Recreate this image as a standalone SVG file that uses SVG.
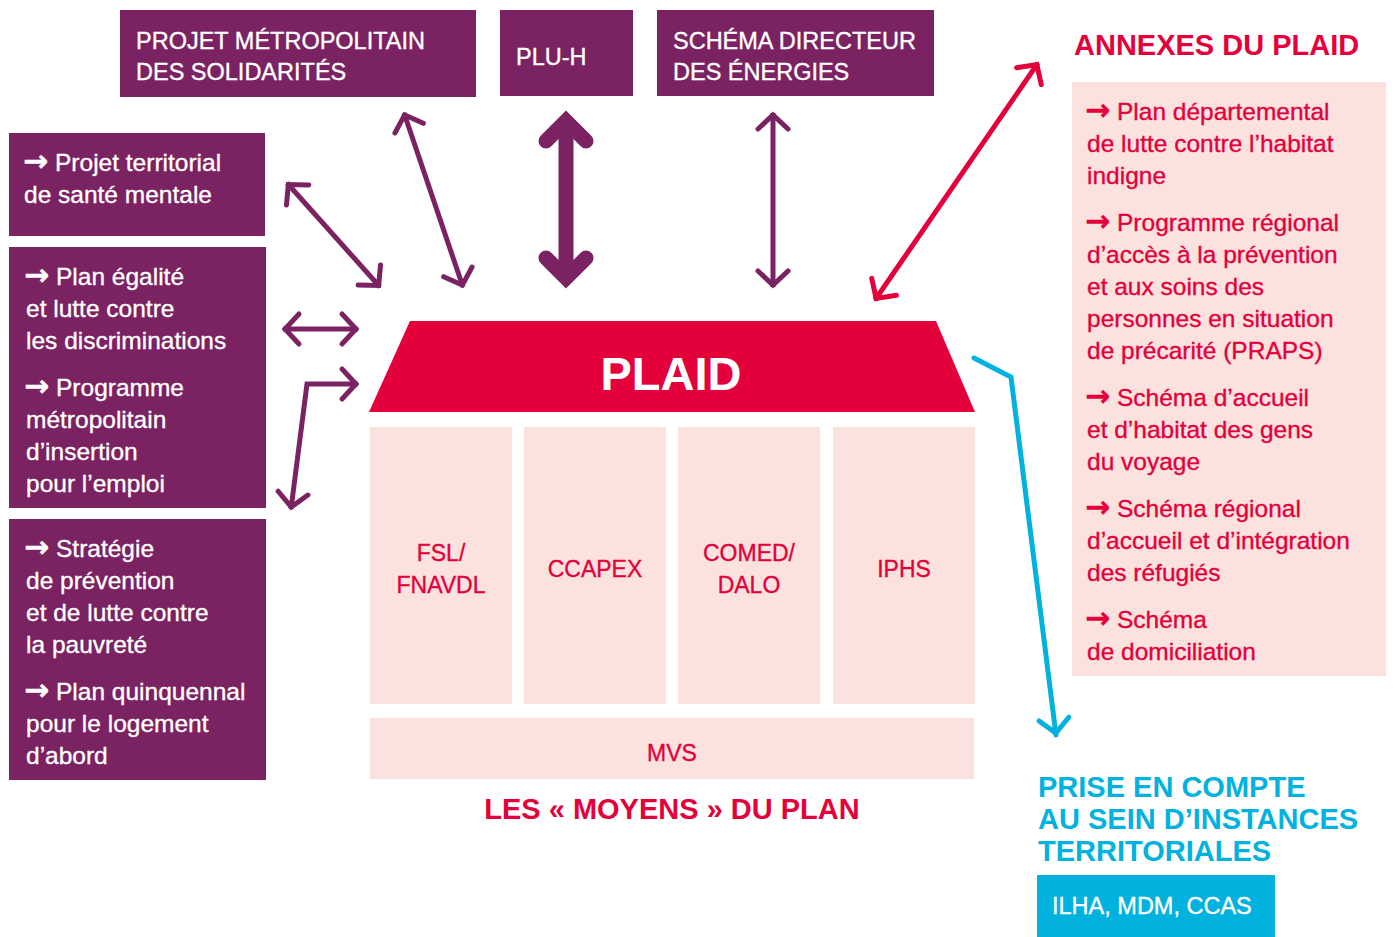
<svg xmlns="http://www.w3.org/2000/svg" width="1394" height="937" viewBox="0 0 1394 937">
  <style>
    .purple { fill: #7B2262; }
    .pink { fill: #FCE2DF; }
    .red { fill: #E4003A; }
    .blue { fill: #00B2DD; }
    text { font-family: "Liberation Sans", Arial, sans-serif; }
    .wt { fill: #ffffff; stroke: #ffffff; stroke-width: 0.35px; font-size: 23.5px; }
    .lt { font-size: 24.5px; }
    .rt { fill: #E4003A; stroke: #E4003A; stroke-width: 0.35px; font-size: 24.5px; }
    .ct { fill: #E4003A; stroke: #E4003A; stroke-width: 0.35px; font-size: 23px; text-anchor: middle; }
    .arw { font-family: "DejaVu Sans", sans-serif; font-weight: bold; font-size: 30px; }
    .title { font-weight: bold; font-size: 29px; }
    .conn { fill: none; stroke-width: 5; stroke-linejoin: miter; }
    .cp { stroke: #7B2262; }
    .cr { stroke: #E4003A; }
    .cb { stroke: #00B2DD; }
  </style>
  <defs>
    <marker id="mp" markerUnits="userSpaceOnUse" orient="auto-start-reverse" viewBox="-30 -30 60 60" markerWidth="60" markerHeight="60" refX="0" refY="0" overflow="visible">
      <path d="M-16,-15 L-2,0 L-16,15" fill="none" stroke="#7B2262" stroke-width="5" stroke-linecap="round"/>
    </marker>
    <marker id="mr" markerUnits="userSpaceOnUse" orient="auto-start-reverse" viewBox="-30 -30 60 60" markerWidth="60" markerHeight="60" refX="0" refY="0" overflow="visible">
      <path d="M-16,-15 L-2,0 L-16,15" fill="none" stroke="#E4003A" stroke-width="5" stroke-linecap="round"/>
    </marker>
    <marker id="mb" markerUnits="userSpaceOnUse" orient="auto-start-reverse" viewBox="-30 -30 60 60" markerWidth="60" markerHeight="60" refX="0" refY="0" overflow="visible">
      <path d="M-16,-15 L-2,0 L-16,15" fill="none" stroke="#00B2DD" stroke-width="5" stroke-linecap="round"/>
    </marker>
  </defs>

  <rect width="1394" height="937" fill="#ffffff"/>

  <!-- top documents -->
  <g id="projet-metropolitain">
    <rect class="purple" x="120" y="10" width="356" height="87"/>
    <text class="wt" x="136" y="49">PROJET MÉTROPOLITAIN</text>
    <text class="wt" x="136" y="80">DES SOLIDARITÉS</text>
  </g>
  <g id="plu-h">
    <rect class="purple" x="500" y="10" width="133" height="86"/>
    <text class="wt" x="516" y="65">PLU-H</text>
  </g>
  <g id="schema-energies">
    <rect class="purple" x="657" y="10" width="277" height="86"/>
    <text class="wt" x="673" y="49">SCHÉMA DIRECTEUR</text>
    <text class="wt" x="673" y="80">DES ÉNERGIES</text>
  </g>

  <!-- left documents -->
  <g id="sante-mentale">
    <rect class="purple" x="9" y="133" width="256" height="103"/>
    <text class="wt lt" y="171"><tspan class="arw" x="23">→</tspan><tspan x="55">Projet territorial</tspan></text>
    <text class="wt lt" x="24" y="203">de santé mentale</text>
  </g>
  <g id="egalite-insertion">
    <rect class="purple" x="9" y="247" width="257" height="261"/>
    <text class="wt lt" y="285"><tspan class="arw" x="24">→</tspan><tspan x="56">Plan égalité</tspan></text>
    <text class="wt lt" x="26" y="317">et lutte contre</text>
    <text class="wt lt" x="26" y="349">les discriminations</text>
    <text class="wt lt" y="396"><tspan class="arw" x="24">→</tspan><tspan x="56">Programme</tspan></text>
    <text class="wt lt" x="26" y="428">métropolitain</text>
    <text class="wt lt" x="26" y="460">d’insertion</text>
    <text class="wt lt" x="26" y="492">pour l’emploi</text>
  </g>
  <g id="pauvrete-logement">
    <rect class="purple" x="9" y="519" width="257" height="261"/>
    <text class="wt lt" y="557"><tspan class="arw" x="24">→</tspan><tspan x="56">Stratégie</tspan></text>
    <text class="wt lt" x="26" y="589">de prévention</text>
    <text class="wt lt" x="26" y="621">et de lutte contre</text>
    <text class="wt lt" x="26" y="653">la pauvreté</text>
    <text class="wt lt" y="700"><tspan class="arw" x="24">→</tspan><tspan x="56">Plan quinquennal</tspan></text>
    <text class="wt lt" x="26" y="732">pour le logement</text>
    <text class="wt lt" x="26" y="764">d’abord</text>
  </g>

  <!-- central plan -->
  <g id="plaid">
    <polygon class="red" points="410,321 936,321 975,412 369,412"/>
    <text x="671" y="390" fill="#ffffff" font-weight="bold" font-size="47" text-anchor="middle">PLAID</text>
  </g>
  <g id="fsl">
    <rect class="pink" x="370" y="427" width="142" height="277"/>
    <text class="ct" x="441" y="561">FSL/</text>
    <text class="ct" x="441" y="593">FNAVDL</text>
  </g>
  <g id="ccapex">
    <rect class="pink" x="524" y="427" width="142" height="277"/>
    <text class="ct" x="595" y="577">CCAPEX</text>
  </g>
  <g id="comed">
    <rect class="pink" x="678" y="427" width="142" height="277"/>
    <text class="ct" x="749" y="561">COMED/</text>
    <text class="ct" x="749" y="593">DALO</text>
  </g>
  <g id="iphs">
    <rect class="pink" x="833" y="427" width="142" height="277"/>
    <text class="ct" x="904" y="577">IPHS</text>
  </g>
  <g id="mvs">
    <rect class="pink" x="370" y="718" width="604" height="61"/>
    <text class="ct" x="672" y="761">MVS</text>
  </g>
  <g id="moyens-label">
    <text class="title" x="672" y="819" fill="#E4003A" text-anchor="middle" font-size="28.5">LES « MOYENS » DU PLAN</text>
  </g>

  <!-- annexes -->
  <g id="annexes">
    <text class="title" x="1074" y="55" fill="#E4003A">ANNEXES DU PLAID</text>
    <rect class="pink" x="1072" y="82" width="314" height="594"/>
    <text class="rt" y="120"><tspan class="arw" x="1085">→</tspan><tspan x="1117">Plan départemental</tspan></text>
    <text class="rt" x="1087" y="152">de lutte contre l’habitat</text>
    <text class="rt" x="1087" y="184">indigne</text>
    <text class="rt" y="231"><tspan class="arw" x="1085">→</tspan><tspan x="1117">Programme régional</tspan></text>
    <text class="rt" x="1087" y="263">d’accès à la prévention</text>
    <text class="rt" x="1087" y="295">et aux soins des</text>
    <text class="rt" x="1087" y="327">personnes en situation</text>
    <text class="rt" x="1087" y="359">de précarité (PRAPS)</text>
    <text class="rt" y="406"><tspan class="arw" x="1085">→</tspan><tspan x="1117">Schéma d’accueil</tspan></text>
    <text class="rt" x="1087" y="438">et d’habitat des gens</text>
    <text class="rt" x="1087" y="470">du voyage</text>
    <text class="rt" y="517"><tspan class="arw" x="1085">→</tspan><tspan x="1117">Schéma régional</tspan></text>
    <text class="rt" x="1087" y="549">d’accueil et d’intégration</text>
    <text class="rt" x="1087" y="581">des réfugiés</text>
    <text class="rt" y="628"><tspan class="arw" x="1085">→</tspan><tspan x="1117">Schéma</tspan></text>
    <text class="rt" x="1087" y="660">de domiciliation</text>
  </g>

  <!-- territorial bodies -->
  <g id="instances">
    <text class="title" fill="#00B2DD" x="1038" y="797">PRISE EN COMPTE</text>
    <text class="title" fill="#00B2DD" x="1038" y="829">AU SEIN D’INSTANCES</text>
    <text class="title" fill="#00B2DD" x="1038" y="861">TERRITORIALES</text>
    <rect class="blue" x="1037" y="875" width="238" height="62"/>
    <text class="wt" x="1052" y="914" font-size="24">ILHA, MDM, CCAS</text>
  </g>

  <!-- connectors -->
  <g id="connectors">
    <line class="conn cp" x1="287" y1="183" x2="380" y2="287" marker-start="url(#mp)" marker-end="url(#mp)"/>
    <line class="conn cp" x1="404" y1="113" x2="463" y2="287" marker-start="url(#mp)" marker-end="url(#mp)"/>
    <line class="conn cp" x1="773" y1="113" x2="773" y2="287" marker-start="url(#mp)" marker-end="url(#mp)"/>
    <line class="conn cp" x1="283" y1="329" x2="358" y2="329" marker-start="url(#mp)" marker-end="url(#mp)"/>
    <path class="conn cp" d="M358,384 L307,384 L291,509" marker-start="url(#mp)" marker-end="url(#mp)"/>
    <!-- heavy two-way link with PLU-H -->
    <g fill="none" stroke="#7B2262" stroke-width="15">
      <line x1="566" y1="125" x2="566" y2="274"/>
      <path d="M546,141 L566,121 L586,141" stroke-linecap="round"/>
      <path d="M546,258 L566,278 L586,258" stroke-linecap="round"/>
    </g>
    <line class="conn cr" x1="875" y1="300" x2="1038" y2="63" marker-start="url(#mr)" marker-end="url(#mr)"/>
    <path class="conn cb" d="M974,358 L1011,377 L1056,735" stroke-linecap="round" marker-end="url(#mb)"/>
  </g>
</svg>
